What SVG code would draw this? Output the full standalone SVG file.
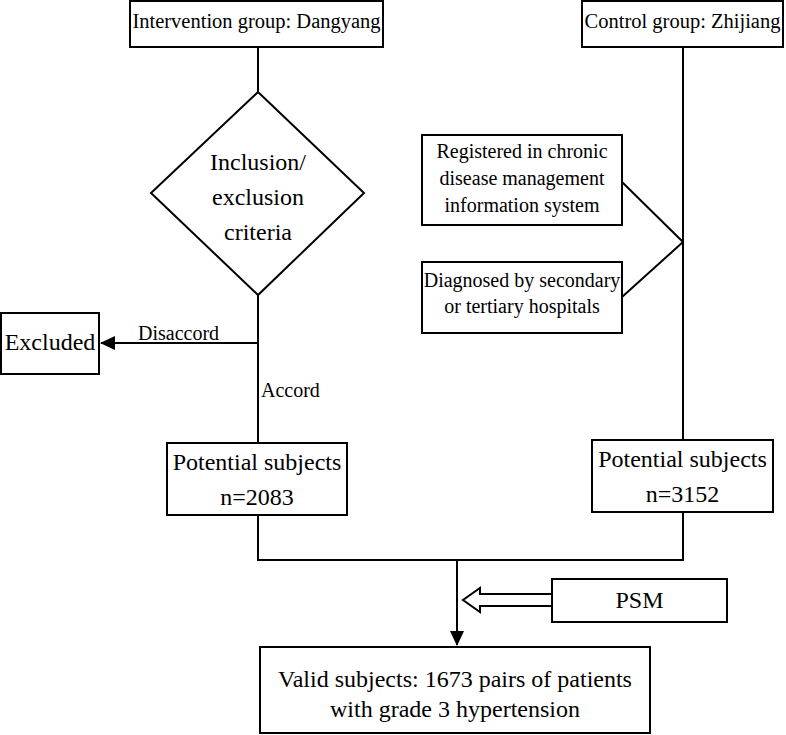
<svg xmlns="http://www.w3.org/2000/svg" width="786" height="735" viewBox="0 0 786 735">
<style>
  .box { fill: #fff; stroke: #000; stroke-width: 2; }
  .ln { fill: none; stroke: #000; stroke-width: 2; }
  text { font-family: "Liberation Serif", "Times New Roman", serif; fill: #000; }
  .t20 { font-size: 20.5px; text-anchor: middle; }
  .t24 { font-size: 24px; text-anchor: middle; }
  .lbl { font-size: 20px; }
</style>
<defs>
  <marker id="arr" markerWidth="16" markerHeight="16" refX="14" refY="8" orient="auto" markerUnits="userSpaceOnUse">
    <path d="M0,1 L15,8 L0,15 Z" fill="#000"/>
  </marker>
</defs>
<rect width="786" height="735" fill="#fff"/>
<g id="connectors">
  <line class="ln" x1="258" y1="47" x2="258" y2="92"/>
  <line class="ln" x1="258" y1="295" x2="258" y2="443"/>
  <line class="ln" x1="258" y1="343" x2="101" y2="343" marker-end="url(#arr)"/>
  <line class="ln" x1="683" y1="47" x2="683" y2="440"/>
  <polyline class="ln" points="622,182 683,242 622,297"/>
  <polyline class="ln" points="258,515 258,560 683,560 683,512"/>
  <line class="ln" x1="457" y1="560" x2="457" y2="645" marker-end="url(#arr)"/>
  <polygon class="box" points="552,594 480,594 480,588 463,600 480,612 480,606 552,606"/>
  <text class="lbl" x="138" y="340">Disaccord</text>
  <text class="lbl" x="261" y="397">Accord</text>
</g>
<g id="intervention">
  <rect class="box" x="130" y="1" width="253" height="46"/>
  <text class="t20" x="256.5" y="28">Intervention group: Dangyang</text>
</g>
<g id="control">
  <rect class="box" x="582" y="1" width="201" height="46"/>
  <text class="t20" x="682.5" y="28">Control group: Zhijiang</text>
</g>
<g id="criteria">
  <polygon class="box" points="258,92 364,193 258,295 151,193"/>
  <text class="t24" x="258" y="170">Inclusion/</text>
  <text class="t24" x="258" y="205">exclusion</text>
  <text class="t24" x="258" y="240">criteria</text>
</g>
<g id="registered">
  <rect class="box" x="422" y="135" width="200" height="90"/>
  <text class="t20" x="522" y="158" style="font-size:20px">Registered in chronic</text>
  <text class="t20" x="522" y="185" style="font-size:20px">disease management</text>
  <text class="t20" x="522" y="212" style="font-size:20px">information system</text>
</g>
<g id="diagnosed">
  <rect class="box" x="422" y="262" width="200" height="71"/>
  <text class="t20" x="522" y="287" style="font-size:20px">Diagnosed by secondary</text>
  <text class="t20" x="522" y="313" style="font-size:20px">or tertiary hospitals</text>
</g>
<g id="excluded">
  <rect class="box" x="1" y="313" width="98" height="61"/>
  <text class="t24" x="50" y="350">Excluded</text>
</g>
<g id="potential-left">
  <rect class="box" x="167" y="443" width="180" height="72"/>
  <text class="t24" x="257" y="470">Potential subjects</text>
  <text class="t24" x="257" y="505">n=2083</text>
</g>
<g id="potential-right">
  <rect class="box" x="592" y="440" width="181" height="72"/>
  <text class="t24" x="682.5" y="467">Potential subjects</text>
  <text class="t24" x="682.5" y="502">n=3152</text>
</g>
<g id="psm">
  <rect class="box" x="552" y="579" width="175" height="43"/>
  <text class="t24" x="639.5" y="608">PSM</text>
</g>
<g id="valid">
  <rect class="box" x="260" y="647" width="390" height="86"/>
  <text class="t24" x="455" y="687">Valid subjects: 1673 pairs of patients</text>
  <text class="t24" x="455" y="717">with grade 3 hypertension</text>
</g>
</svg>
